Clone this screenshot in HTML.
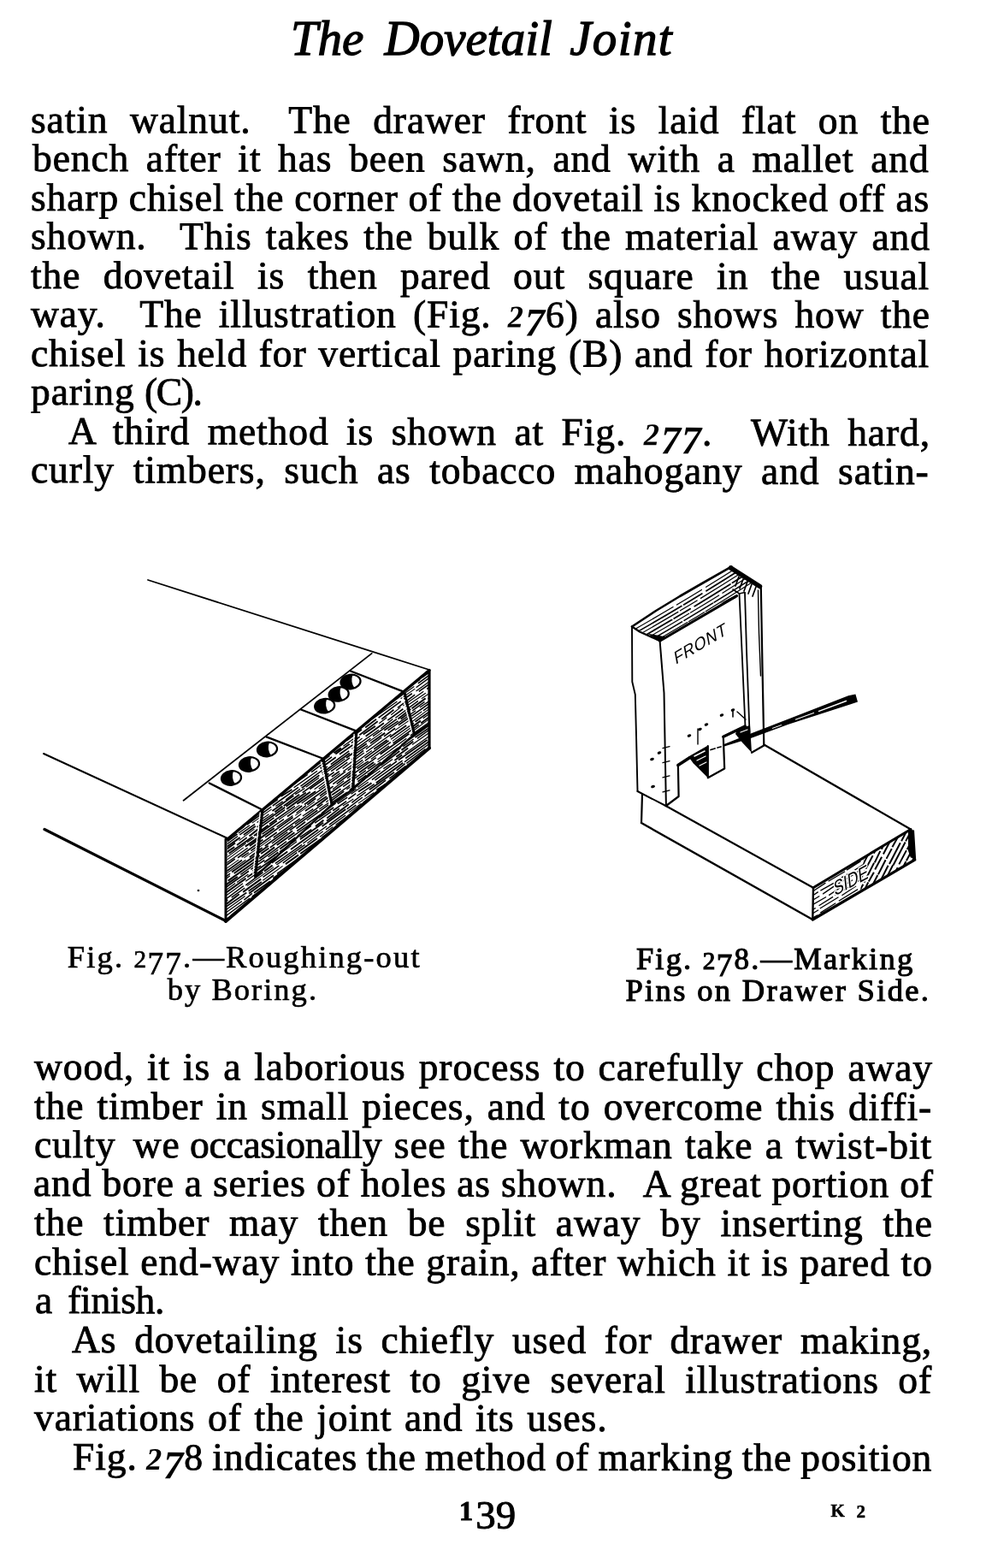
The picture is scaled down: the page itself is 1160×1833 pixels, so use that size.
<!DOCTYPE html>
<html lang="en"><head><meta charset="utf-8"><title>The Dovetail Joint</title>
<style>
html,body{margin:0;padding:0;background:#fff;}
body{width:1160px;height:1833px;position:relative;overflow:hidden;filter:grayscale(1);font-family:"Liberation Serif",serif;color:#000;}
.l{display:block;position:absolute;font-size:45.5px;line-height:1;letter-spacing:0.9px;white-space:nowrap;-webkit-text-stroke:0.85px #000;}
.sp{display:inline-block;}
.t{display:block;position:absolute;white-space:nowrap;line-height:1;}
h1,p,figure,figcaption,footer{margin:0;padding:0;font-weight:normal;font-size:inherit;}
.os{font-size:.8em;letter-spacing:.05em;}
.od{font-size:1.02em;position:relative;top:.21em;}
.oa{font-size:.96em;}
.o1{font-size:.7em;font-weight:bold;letter-spacing:.1em;}
.i{font-style:italic;font-weight:bold;-webkit-text-stroke:0;}
svg{position:absolute;left:0;top:0;}
</style></head><body>
<h1><span class="t" style="left:339.97px;top:16.20px;font-size:57px;letter-spacing:-0.117px;font-style:italic;-webkit-text-stroke:1.3px #000;">The</span> <span class="t" style="left:449.57px;top:16.20px;font-size:57px;letter-spacing:0.012px;font-style:italic;-webkit-text-stroke:1.3px #000;">Dovetail</span> <span class="t" style="left:666.18px;top:16.20px;font-size:57px;letter-spacing:1.370px;font-style:italic;-webkit-text-stroke:1.3px #000;">Joint</span></h1>
<p><span class="l" style="top:117.10px;left:35.80px;word-spacing:13.268px;transform:rotate(0.0547deg);transform-origin:0 38.0px">satin walnut. <span class="sp" style="margin-left:18.20px"></span>The drawer front is laid flat on the</span>
<span class="l" style="top:162.30px;left:38.30px;word-spacing:7.407px;transform:rotate(0.0547deg);transform-origin:0 38.0px">bench after it has been sawn, and with a mallet and</span>
<span class="l" style="top:207.60px;left:35.80px;word-spacing:-0.510px;transform:rotate(0.0547deg);transform-origin:0 38.0px">sharp chisel the corner of the dovetail is knocked off as</span>
<span class="l" style="top:253.10px;left:35.80px;word-spacing:4.017px;transform:rotate(0.0547deg);transform-origin:0 38.0px">shown. <span class="sp" style="margin-left:22.20px"></span>This takes the bulk of the material away and</span>
<span class="l" style="top:298.70px;left:35.80px;word-spacing:14.214px;transform:rotate(0.0547deg);transform-origin:0 38.0px">the dovetail is then pared out square in the usual</span>
<span class="l" style="top:344.10px;left:35.80px;word-spacing:6.892px;transform:rotate(0.0547deg);transform-origin:0 38.0px">way. <span class="sp" style="margin-left:20.20px"></span>The illustration (Fig. <span class="os i">2</span><span class="od i">7</span><span class="oa">6</span>) also shows how the</span>
<span class="l" style="top:389.70px;left:35.80px;word-spacing:1.449px;transform:rotate(0.0547deg);transform-origin:0 38.0px">chisel is held for vertical paring (B) and for horizontal</span>
<span class="l" style="top:435.20px;left:36.40px;word-spacing:-0.847px;transform:rotate(0.0547deg);transform-origin:0 38.0px">paring <span style="letter-spacing:-1.4px">(C).</span></span></p>
<p><span class="l" style="top:480.70px;left:79.80px;word-spacing:8.213px;transform:rotate(0.1093deg);transform-origin:0 38.0px">A third method is shown at Fig. <span class="os i">2</span><span class="od i">7</span><span class="od i">7</span>. <span class="sp" style="margin-left:24.20px"></span>With hard,</span>
<span class="l" style="top:526.20px;left:35.80px;word-spacing:9.363px;transform:rotate(0.1093deg);transform-origin:0 38.0px">curly timbers, such as tobacco mahogany and satin-</span>
<span class="l" style="top:1223.70px;left:39.50px;word-spacing:2.712px;transform:rotate(0.0711deg);transform-origin:0 38.0px">wood, it is a laborious process to carefully chop away</span>
<span class="l" style="top:1269.50px;left:39.50px;word-spacing:2.873px;transform:rotate(0.0711deg);transform-origin:0 38.0px">the timber in small pieces, and to overcome this diffi-</span>
<span class="l" style="top:1315.10px;left:39.50px;word-spacing:2.071px;transform:rotate(0.0711deg);transform-origin:0 38.0px">culty <span class="sp" style="margin-left:6.00px"></span>we <span class="sp" style="margin-left:-3.00px"></span><span style="letter-spacing:-0.25px">occasionally</span> see the workman take a twist-bit</span>
<span class="l" style="top:1360.30px;left:39.30px;word-spacing:-0.264px;transform:rotate(0.0711deg);transform-origin:0 38.0px">and bore a series of holes as shown. <span class="sp" style="margin-left:18.20px"></span>A great portion of</span>
<span class="l" style="top:1406.00px;left:39.50px;word-spacing:10.528px;transform:rotate(0.0711deg);transform-origin:0 38.0px">the timber may then be split away by inserting the</span>
<span class="l" style="top:1451.70px;left:39.50px;word-spacing:0.513px;transform:rotate(0.0711deg);transform-origin:0 38.0px">chisel end-way into the grain, after which it is pared to</span>
<span class="l" style="top:1497.20px;left:40.50px;word-spacing:4.812px;transform:rotate(0.0711deg);transform-origin:0 38.0px">a <span style="letter-spacing:-0.3px">finish.</span></span></p>
<figure><svg width="1160" height="1833" viewBox="0 0 1160 1833"><g id="fig277" stroke="#000" stroke-linecap="round" fill="none"><clipPath id="c277"><polygon points="266,981 502,783.5 502,874.5 402,959.5 264,1077"/></clipPath><g clip-path="url(#c277)" fill="none" stroke-linecap="butt"><path d="M254.4 783.8L276.6 768.1M291.4 757.7L311.7 742.7M502.6 605.7L534.9 582.6M338.1 727.8L366.1 706.6M291.3 763.6L314.4 747.6M344.1 725.5L371.4 705.9M480.3 631.1L509.5 611.2M391.2 702.0L411.4 688.3M482.7 636.1L512.7 615.4M377.4 716.4L396.3 702.1M400.2 699.7L425.8 681.2M467.0 651.4L490.3 634.5M501.0 629.8L523.2 613.9M323.0 761.8L344.0 747.2M392.1 712.4L418.9 693.0M386.8 719.3L404.9 706.3M439.0 681.0L466.0 662.5M298.7 786.0L324.8 768.0M405.1 709.8L431.4 690.8M394.5 720.4L419.0 702.5M260.5 820.1L271.6 812.0M382.7 732.2L391.4 726.3M477.5 678.9L499.3 663.4M278.7 824.6L310.4 802.8M327.8 793.1L358.5 771.2M470.7 690.1L491.8 674.4M390.2 751.2L402.2 742.8M396.7 750.3L410.1 740.3M363.2 778.4L382.8 763.9M319.8 819.4L343.6 802.2M421.3 747.0L439.5 733.5M257.7 867.8L272.7 856.8M283.5 852.1L306.2 835.8M324.6 833.7L352.0 814.1M388.5 790.9L408.5 776.4M257.7 888.4L273.3 877.3M448.9 750.9L480.9 728.0M434.0 768.4L458.3 750.5M272.9 887.8L282.5 881.4M404.2 797.0L434.0 775.9M486.1 740.7L519.2 717.5M305.2 877.7L337.9 854.0M355.3 844.0L386.2 822.3M485.1 753.6L513.9 732.7M385.9 828.6L399.5 819.4M316.1 882.7L341.4 864.0M457.5 781.1L482.1 762.9M436.2 799.6L452.2 787.6M454.3 789.3L469.1 779.7M397.0 834.8L420.7 816.8M316.3 896.0L343.9 876.0M484.4 775.4L503.5 761.3M406.4 834.3L423.3 822.7M449.5 803.4L471.6 786.9M351.3 876.8L377.4 858.3M394.7 849.2L419.1 831.8M419.9 835.2L446.0 815.7M460.7 811.9L475.6 801.6M256.5 962.4L283.5 943.9M467.1 810.6L491.0 794.3M291.3 947.9L319.7 928.1M420.3 859.2L441.7 843.2M499.2 805.5L515.6 793.3M453.3 842.1L471.4 828.7M449.3 853.8L465.6 842.9M500.6 816.9L517.3 804.7M353.7 926.6L384.5 904.3M411.0 888.3L425.1 877.3M449.0 860.9L462.1 851.3M481.2 837.1L514.6 813.2M303.5 967.9L320.5 955.9M387.8 908.0L396.8 901.8M437.2 875.7L452.6 865.0M426.5 886.4L454.6 865.9M359.3 940.7L369.2 933.2M374.0 930.5L389.6 919.1M393.7 916.4L414.4 900.7M417.5 898.5L430.8 889.9M459.6 868.9L489.8 847.1M278.0 1002.8L307.4 981.5M429.9 899.0L439.1 892.7M291.8 1002.3L306.7 991.0M485.4 862.1L512.4 843.5M260.4 1027.7L269.1 1021.1M338.6 970.9L371.3 947.3M418.4 913.6L428.5 906.3M253.4 1039.6L262.5 1032.4M258.8 1041.1L290.9 1018.2M389.2 947.7L405.1 936.6M474.2 886.5L504.3 864.9M504.0 868.3L529.6 849.9M476.1 894.6L506.8 873.0M453.9 914.6L487.0 890.5M452.3 918.8L478.3 899.2M422.0 943.5L439.9 929.9M457.7 917.8L487.3 896.6M349.1 1008.9L369.3 994.3M497.8 902.4L526.9 882.0M326.9 1029.2L345.5 1016.1M469.1 926.3L493.1 909.5M389.1 994.5L419.0 973.0M423.1 970.2L439.6 958.5M371.6 1010.9L392.6 995.3M466.9 944.4L487.5 930.5M324.3 1051.2L346.6 1034.8M257.4 1110.3L271.5 1100.1M335.0 1058.3L368.8 1033.3M328.0 1066.0L345.6 1053.4M400.4 1018.2L422.7 1002.0M479.3 960.6L492.0 951.3M314.0 1087.3L336.8 1070.0M341.5 1067.3L353.4 1058.8M433.1 1000.7L447.1 990.4M480.3 967.2L491.2 959.6M293.0 1104.8L314.7 1089.1M358.9 1057.5L373.3 1047.2M437.0 1001.1L461.0 984.0M289.3 1118.3L309.9 1103.0M461.2 1001.1L482.7 985.1M316.5 1111.5L329.2 1102.1M278.6 1145.9L310.7 1123.2M357.4 1089.4L382.5 1070.7M278.0 1149.6L305.6 1130.6M396.0 1065.1L425.7 1043.2M434.0 1048.0L453.7 1034.9M455.3 1033.2L473.9 1019.6M478.2 1016.4L503.5 999.2M295.6 1152.5L321.3 1134.0M356.0 1108.7L372.5 1096.1M395.8 1088.9L412.7 1077.3M434.6 1061.8L448.1 1051.4M318.2 1148.9L352.3 1124.2M306.1 1163.8L314.9 1158.1M290.7 1178.6L319.4 1157.6M321.6 1160.3L351.7 1137.6M331.7 1156.0L362.0 1133.2M366.7 1129.8L398.0 1108.3M310.1 1175.3L323.7 1164.6M469.6 1059.6L489.3 1045.4M255.7 1223.9L267.6 1215.0M393.7 1127.2L402.4 1121.4M351.9 1160.6L379.2 1140.3M383.3 1138.0L415.3 1114.9M453.9 1087.5L478.5 1069.6M307.4 1199.3L315.7 1193.1M354.6 1164.9L368.8 1155.1M406.9 1127.4L435.7 1106.7M410.9 1130.6L432.2 1115.4M437.9 1118.3L468.7 1095.9M398.5 1149.5L425.9 1130.4" stroke-width="1.7"/><path d="M278.1 767.3L286.5 760.5M424.0 661.4L454.9 639.2M261.6 782.5L293.3 759.9M308.1 755.5L337.1 734.3M385.3 704.3L409.7 685.7M303.8 765.6L322.8 751.6M445.4 667.4L465.1 652.6M336.3 748.7L369.4 724.6M373.2 722.8L398.9 704.2M438.7 674.6L449.1 668.0M442.0 676.6L464.2 660.2M466.9 657.9L497.6 636.3M338.5 754.1L351.6 744.7M303.5 785.6L321.9 773.5M358.0 746.7L390.3 723.4M292.1 797.3L324.2 774.3M447.3 685.3L458.2 678.0M403.5 720.8L422.6 707.0M437.0 700.7L457.2 686.1M315.5 791.9L330.0 781.0M261.6 839.9L291.6 818.5M439.2 712.2L469.0 691.5M489.9 679.7L507.8 667.3M445.9 715.5L466.1 700.5M471.0 697.0L496.2 678.4M308.0 818.5L319.2 809.8M260.7 858.8L282.2 843.0M362.4 789.7L382.3 774.9M346.1 807.0L359.5 797.0M434.1 743.5L461.1 724.0M320.4 828.9L331.7 821.2M336.0 817.5L367.7 794.3M406.5 766.3L422.0 756.2M288.3 855.4L303.3 845.4M326.7 828.2L343.8 815.8M253.1 884.3L283.8 863.0M253.4 888.4L280.4 869.0M347.5 820.8L366.1 806.8M364.5 811.7L375.0 803.8M378.9 800.4L403.5 783.5M466.6 741.0L484.9 728.4M280.7 879.1L314.3 854.8M316.2 853.5L343.3 833.8M304.6 868.6L335.7 845.8M437.3 772.5L456.5 758.8M475.1 746.3L489.1 736.3M368.0 825.6L377.9 818.2M470.3 752.0L482.4 743.7M423.7 789.7L433.8 781.9M467.9 757.6L483.8 745.9M414.9 801.2L437.7 785.6M404.7 811.8L426.4 796.4M474.3 761.8L482.8 756.2M253.4 924.6L277.2 907.1M327.8 870.2L341.6 860.3M369.0 840.8L383.4 830.7M485.3 757.2L514.9 735.5M261.1 922.1L293.6 898.1M485.7 760.6L516.1 738.1M418.7 815.6L433.9 804.2M361.0 864.3L378.9 851.2M415.2 825.1L443.7 804.6M371.2 859.8L401.8 837.2M319.8 899.4L347.6 880.3M379.6 856.9L401.6 841.5M463.7 800.3L486.5 783.8M273.8 940.5L300.0 921.8M326.9 901.6L342.3 890.5M293.5 933.1L318.1 915.2M408.2 849.4L423.0 839.8M297.1 933.3L311.5 922.7M418.0 849.8L432.4 840.1M434.4 841.3L464.4 820.0M486.5 808.0L506.3 793.6M320.5 930.7L338.2 917.9M279.5 963.7L309.1 942.0M411.5 875.4L443.0 853.3M445.3 851.8L459.4 840.6M322.3 942.5L330.7 936.9M413.0 877.9L433.4 863.1M377.3 905.8L403.5 887.0M303.4 962.1L319.7 951.0M490.8 827.0L502.3 819.4M503.7 818.0L521.4 805.2M427.9 875.7L446.3 862.0M372.7 922.3L397.6 904.0M352.7 939.0L383.2 917.4M259.3 1012.7L289.7 991.3M433.8 887.6L455.0 872.1M401.2 919.6L427.9 900.6M344.9 963.6L377.4 939.9M381.2 937.7L412.8 915.4M448.1 889.7L468.9 874.1M471.3 872.6L483.6 864.0M405.3 922.8L414.5 916.9M428.3 909.5L459.1 887.5M448.3 898.6L457.1 893.0M281.3 1022.4L299.4 1009.3M410.6 928.3L430.8 914.3M501.5 863.0L524.7 846.1M313.5 1001.8L325.4 993.2M261.0 1043.0L275.2 1032.6M253.6 1054.7L284.0 1032.8M287.2 1030.2L316.3 1009.7M354.4 986.1L382.0 965.7M380.9 969.9L404.1 953.0M424.5 938.2L450.2 919.8M490.1 894.4L509.1 880.2M435.3 943.6L462.3 924.6M463.9 923.3L480.6 911.1M319.5 1040.8L328.7 1034.0M310.1 1051.3L327.2 1038.9M417.3 977.3L441.4 960.4M445.9 957.2L466.1 942.4M468.9 940.4L484.3 929.1M302.8 1063.0L317.0 1053.3M319.0 1051.6L338.1 1037.4M339.5 1036.6L354.6 1025.9M349.0 1033.3L378.1 1013.0M492.6 930.1L511.6 916.6M342.8 1042.0L376.3 1017.7M285.7 1086.4L306.4 1071.0M308.8 1069.7L317.5 1064.0M354.5 1040.4L382.1 1020.3M370.6 1033.0L387.9 1020.0M412.0 1002.9L436.2 985.8M373.9 1033.6L402.2 1013.2M474.7 960.0L491.5 948.2M494.3 946.2L512.1 934.2M258.0 1123.6L281.3 1106.3M354.8 1056.9L369.9 1046.4M450.4 988.6L477.6 969.0M346.8 1069.7L375.9 1048.2M404.5 1027.7L438.3 1003.7M261.3 1134.6L279.7 1121.4M420.0 1026.7L442.6 1010.8M379.7 1063.2L392.7 1053.6M255.9 1162.6L276.4 1147.5M401.7 1057.9L411.5 1050.5M459.9 1019.1L491.0 996.5M492.9 994.6L522.2 974.0M393.2 1070.7L423.2 1049.7M480.1 1008.6L509.7 986.3M464.2 1023.5L495.8 999.8M498.8 998.0L508.4 991.4M342.1 1114.7L361.0 1101.6M386.1 1082.8L408.8 1066.2M389.7 1084.2L411.3 1069.2M257.3 1182.4L289.7 1159.6M363.0 1109.4L387.9 1091.3M412.7 1073.4L444.1 1051.1M458.7 1041.1L481.6 1023.8M331.8 1135.3L360.3 1114.8M402.5 1105.1L420.6 1091.8M423.8 1089.5L432.9 1082.7M260.1 1210.9L290.8 1188.3M328.3 1161.2L338.5 1154.3M343.4 1151.2L364.4 1135.8M366.5 1134.0L388.3 1118.9M273.5 1204.9L286.4 1195.5M319.9 1171.5L353.7 1146.7M442.4 1083.0L471.4 1062.3M355.7 1151.9L377.8 1135.2M395.7 1123.0L417.9 1106.7M451.2 1082.7L477.7 1064.2M496.1 1050.1L513.4 1037.5M404.4 1119.9L427.3 1102.7M327.1 1178.6L337.5 1170.7M373.5 1148.4L383.3 1141.3M497.8 1061.7L511.9 1052.6M258.7 1237.2L285.2 1218.2M270.7 1232.2L279.0 1225.6M377.7 1154.7L408.4 1132.6M491.7 1072.3L515.3 1055.3M426.1 1123.8L435.5 1117.1" stroke-width="1.3"/><path d="M313.5 741.9L338.1 723.7M412.1 676.6L440.3 656.9M411.9 684.6L433.7 668.9M501.1 620.0L517.7 608.5M356.6 727.2L389.1 704.5M446.1 662.3L469.5 645.6M261.1 807.1L271.7 798.8M421.8 690.5L438.1 678.7M488.6 649.1L502.5 639.3M345.6 756.1L355.1 748.8M328.3 771.2L348.8 756.2M367.5 746.6L381.0 736.8M326.0 780.1L341.3 769.0M491.5 660.5L503.9 651.7M354.8 762.8L369.3 753.1M429.9 715.6L446.1 704.3M317.5 807.0L343.5 788.7M384.8 762.9L410.3 744.0M311.0 818.6L340.5 797.3M337.9 803.0L351.2 794.4M355.1 790.5L386.7 768.5M388.7 767.3L408.7 752.2M488.2 695.3L500.7 685.8M348.0 798.9L359.7 790.5M412.3 758.9L431.6 745.9M289.3 851.8L315.9 831.6M475.6 717.5L491.4 706.2M389.7 782.4L406.5 770.5M485.3 713.7L506.3 698.7M312.2 842.1L321.7 834.9M440.7 750.0L467.1 730.8M298.0 855.7L324.3 836.8M328.3 833.6L344.1 823.2M274.5 876.1L294.0 861.5M424.3 767.8L447.5 751.4M253.0 895.1L280.4 875.9M315.7 856.5L349.0 832.8M445.1 763.5L473.8 742.8M459.4 757.7L470.6 749.2M403.2 804.1L419.2 792.4M436.8 779.4L447.4 772.5M468.7 762.6L480.9 754.6M427.0 799.1L447.1 785.3M384.4 836.6L402.2 823.9M454.6 786.4L484.3 764.3M261.3 929.1L276.3 917.7M279.3 915.3L299.7 901.3M351.3 864.6L381.5 842.6M259.5 933.0L275.4 921.5M425.0 813.9L450.0 795.8M252.4 941.7L262.2 934.5M295.8 913.5L306.3 906.1M420.7 831.0L440.6 816.4M371.1 870.2L389.0 857.4M287.2 933.7L312.6 915.7M434.0 827.4L449.7 817.0M256.7 959.1L275.7 945.3M344.9 895.3L371.7 875.8M314.6 921.0L326.2 913.1M253.9 968.0L268.6 957.5M341.6 911.6L355.7 902.2M427.2 850.5L440.0 840.7M472.4 817.2L481.8 810.8M446.3 840.8L460.4 829.8M328.5 931.0L341.4 922.9M374.6 898.3L392.7 885.2M397.0 881.7L412.7 870.7M352.8 921.2L373.4 906.3M502.4 812.8L518.2 802.3M300.6 966.9L333.2 943.8M277.0 988.0L288.7 979.1M299.4 977.2L323.8 959.6M485.5 843.7L516.1 822.0M336.0 954.6L353.2 942.1M356.9 948.0L381.8 931.0M383.1 929.3L417.0 905.4M261.0 1021.3L283.0 1005.5M388.3 929.3L398.5 922.2M315.8 990.9L342.1 971.3M346.5 968.6L357.0 960.8M461.4 889.0L470.2 882.5M372.4 956.2L390.1 944.0M466.0 888.5L499.5 865.0M289.3 1025.6L322.4 1001.7M350.9 981.3L378.2 961.8M257.8 1058.8L266.3 1051.8M483.0 896.7L505.3 879.8M441.7 928.5L454.9 919.6M290.6 1041.7L305.9 1031.0M376.3 979.2L406.9 957.7M485.4 907.5L511.7 888.4M294.8 1048.2L317.9 1032.1M258.9 1085.1L286.3 1064.8M494.8 915.4L505.1 907.5M253.0 1092.3L267.7 1082.4M346.8 1025.1L362.4 1014.0M294.3 1066.1L309.4 1055.7M346.9 1027.6L369.7 1011.4M357.7 1023.3L386.2 1003.3M253.9 1102.2L275.6 1086.0M473.3 951.0L499.0 932.3M269.7 1105.6L279.2 1097.8M255.6 1121.9L265.0 1114.9M325.6 1075.2L345.4 1060.3M493.4 954.7L517.7 936.3M411.1 1019.8L432.4 1003.8M494.2 959.6L508.7 949.3M490.3 965.8L507.1 954.2M377.1 1061.8L391.6 1050.5M292.0 1125.4L312.0 1110.9M331.6 1100.7L342.5 1092.7M430.2 1029.4L449.8 1015.0M253.1 1168.1L262.2 1161.4M449.6 1029.7L476.9 1010.5M289.3 1149.4L303.3 1138.6M306.2 1137.3L322.8 1124.8M279.4 1160.0L309.3 1138.9M461.3 1032.8L478.3 1020.5M336.8 1127.9L359.9 1111.3M390.9 1089.5L411.2 1074.8M362.7 1112.6L392.7 1091.7M451.0 1049.3L462.6 1040.7M380.0 1103.9L409.2 1082.6M474.4 1040.0L487.7 1029.6M426.9 1077.4L440.4 1067.1M259.5 1200.8L288.1 1181.0M323.6 1155.3L351.7 1135.3M419.8 1085.5L429.8 1078.7M459.3 1057.8L482.3 1040.1M296.3 1177.6L319.0 1161.8M353.4 1136.2L379.8 1117.6M435.8 1083.6L465.6 1063.2M406.5 1109.2L438.6 1086.2M258.4 1218.3L267.5 1212.4M426.7 1098.0L448.5 1081.4M382.4 1132.8L393.7 1124.6M482.0 1060.2L491.4 1053.2M328.6 1174.4L353.4 1155.8M489.9 1065.0L504.7 1053.9M473.6 1082.8L497.1 1066.2M260.5 1245.2L281.4 1231.0M381.9 1157.9L410.4 1137.5M472.1 1093.8L504.6 1070.4M312.9 1210.9L326.4 1201.9M403.6 1149.6L422.2 1135.7M301.5 1226.7L334.2 1202.9" stroke-width="1.8"/><path d="M341.8 721.4L351.5 714.1M315.9 746.4L340.3 729.1M376.1 703.0L390.7 692.6M393.3 690.5L409.5 679.1M459.3 642.6L485.6 624.0M489.8 621.6L509.3 606.7M449.2 657.3L479.5 635.9M481.9 634.4L499.2 621.9M253.8 801.5L271.6 788.9M328.7 751.5L352.8 733.7M451.6 666.0L474.8 648.5M253.4 819.2L282.0 797.8M284.1 796.9L294.3 790.1M323.5 771.4L344.0 757.2M411.6 711.9L431.4 697.5M315.5 784.4L340.2 766.7M379.2 741.7L410.1 719.2M380.6 751.3L392.1 742.9M391.4 746.7L415.1 729.8M281.2 829.5L309.5 810.1M334.7 791.7L365.4 769.3M500.7 675.6L512.3 667.4M456.9 714.2L473.3 701.8M410.5 750.8L436.0 732.8M472.0 706.9L486.8 696.3M503.8 684.4L536.6 660.6M441.9 731.8L455.9 722.1M448.8 729.9L464.8 718.1M393.2 777.0L401.8 770.0M424.0 753.9L456.5 731.3M458.8 729.2L472.5 719.4M345.5 813.9L368.5 798.3M282.5 867.6L294.9 858.1M284.1 872.2L314.2 850.8M488.9 725.7L511.9 708.6M350.6 832.3L372.9 816.0M376.9 813.1L406.4 791.9M288.9 889.0L301.6 880.2M419.7 794.3L444.2 777.7M289.6 892.1L320.9 869.1M299.6 887.3L315.7 876.6M317.3 874.9L350.7 851.0M280.7 904.1L307.0 885.4M449.6 782.9L458.4 776.6M366.6 845.7L379.5 837.1M381.4 835.3L396.9 824.0M404.6 821.4L432.7 802.2M315.2 890.2L346.6 866.9M385.5 839.2L417.4 815.8M472.7 776.0L501.9 756.0M278.3 919.5L290.4 911.1M293.8 908.7L323.8 887.3M495.9 770.3L513.5 757.2M490.1 780.9L516.7 762.3M391.6 855.5L404.7 846.0M454.4 812.9L483.5 792.5M406.9 858.0L416.7 851.3M486.6 803.8L505.7 789.6M254.9 984.5L268.4 975.2M343.6 920.8L371.0 901.2M462.4 839.2L488.9 819.4M334.0 935.0L351.0 922.3M252.1 996.5L278.1 977.5M345.2 928.7L356.4 921.5M482.2 830.9L496.5 820.4M411.9 883.7L430.1 871.7M453.6 853.9L486.1 830.7M400.6 898.5L425.8 880.0M428.1 879.2L457.4 858.3M494.9 830.9L514.5 816.2M457.1 864.2L484.0 845.1M494.7 839.7L511.0 828.1M323.6 966.8L342.4 953.5M346.5 950.5L358.0 941.6M441.5 888.0L475.3 863.3M479.9 859.8L511.9 837.3M353.9 954.0L366.3 945.6M373.3 946.0L384.3 938.5M254.1 1034.7L269.0 1023.7M336.9 981.6L368.1 959.5M293.3 1016.4L309.4 1005.3M295.1 1018.2L305.1 1012.2M326.8 995.7L346.5 982.0M417.3 930.5L437.7 916.6M472.9 890.9L501.6 869.8M321.9 1009.4L353.1 987.4M323.4 1011.0L356.7 987.4M253.0 1065.2L261.2 1058.8M387.8 974.6L414.5 955.7M257.4 1071.7L282.9 1053.5M379.4 984.3L399.7 970.0M457.6 931.0L470.4 921.7M270.0 1070.1L281.9 1061.2M395.1 982.9L419.9 965.9M398.5 984.2L408.6 976.6M411.6 974.8L445.5 950.4M283.8 1070.3L294.8 1061.8M289.2 1072.8L298.0 1066.1M390.8 999.9L418.2 980.2M492.2 926.6L517.1 908.5M379.5 1015.0L403.8 998.2M342.7 1044.8L374.6 1022.2M436.6 977.5L456.3 963.7M384.5 1018.9L411.5 999.4M495.7 948.8L519.5 931.3M279.1 1114.4L290.1 1106.9M255.2 1134.9L271.7 1123.6M312.4 1100.9L331.3 1088.2M475.8 987.5L494.7 974.0M315.5 1105.0L325.8 1097.7M469.4 998.2L501.1 974.8M357.8 1081.5L381.0 1064.5M451.2 1013.9L466.8 1002.7M368.5 1077.6L391.0 1061.3M392.5 1060.1L425.1 1037.4M427.5 1035.2L436.7 1028.3M470.9 1007.9L488.2 994.6M337.2 1107.2L358.8 1092.2M270.3 1162.9L285.0 1152.3M336.9 1114.8L360.2 1098.2M414.5 1065.9L443.7 1045.4M329.4 1130.6L347.8 1117.2M254.3 1187.6L264.0 1180.9M267.6 1177.7L276.4 1171.8M257.2 1195.7L288.9 1172.9M490.4 1028.0L498.9 1022.4M356.3 1131.1L375.6 1117.3M436.2 1080.0L467.6 1057.5M409.1 1103.5L433.4 1086.3M495.7 1044.3L526.6 1022.6M310.7 1180.4L341.3 1159.3M485.7 1054.9L501.8 1043.6M270.5 1212.2L287.0 1200.8M314.6 1184.4L325.3 1176.9M419.6 1112.2L449.3 1090.9M258.6 1230.9L287.5 1209.7M401.5 1127.6L418.1 1116.6M318.8 1191.7L352.2 1167.3M499.6 1064.0L519.7 1048.9M311.4 1202.8L324.6 1193.1M350.9 1174.3L373.0 1157.6M260.6 1242.1L274.4 1232.7M467.6 1093.0L475.9 1087.5M283.3 1229.7L308.3 1211.0M312.6 1207.9L345.0 1184.9M349.3 1181.6L379.5 1160.2M331.1 1197.9L360.7 1176.5M454.5 1109.5L481.3 1090.0M358.6 1182.2L381.2 1165.4M385.7 1161.9L399.9 1152.0M288.7 1235.3L298.5 1228.8M336.6 1201.4L361.1 1183.0M452.1 1117.4L468.7 1105.4" stroke-width="1.4"/><path d="M352.9 713.0L383.5 691.3M297.5 756.3L320.5 739.5M447.3 648.5L478.0 627.2M274.6 779.4L304.5 758.0M336.2 738.8L353.5 726.7M355.3 725.9L384.0 705.1M495.0 631.7L510.8 619.9M284.9 785.8L308.5 769.2M400.8 702.0L415.6 691.9M275.7 796.3L291.5 784.9M353.7 742.5L382.2 723.0M329.4 764.6L356.1 744.8M276.2 809.2L288.9 800.1M392.9 725.3L407.2 714.8M301.7 794.0L312.0 786.2M461.1 679.7L473.5 670.5M413.0 717.6L434.8 701.7M483.0 670.8L501.7 657.4M253.6 839.9L269.8 828.0M332.0 783.2L357.5 765.1M314.3 805.8L331.9 793.5M368.4 767.1L386.9 754.1M417.3 732.1L449.3 709.2M290.2 831.3L303.4 821.0M321.1 808.6L330.2 801.9M467.3 703.6L498.7 680.4M259.3 855.8L282.6 839.5M258.5 873.9L285.1 853.8M307.9 841.8L324.1 829.4M441.7 745.1L462.2 730.4M285.3 862.0L307.4 846.1M408.3 779.5L420.1 770.9M346.2 828.0L363.6 815.8M366.2 813.8L383.5 800.8M412.7 780.7L445.8 756.5M460.0 749.3L481.8 734.4M475.6 741.9L509.1 718.3M339.3 844.1L354.6 832.1M391.0 805.9L399.8 800.4M274.7 892.8L308.0 869.5M312.7 866.0L333.0 850.8M381.7 816.1L415.5 792.1M288.3 887.1L313.5 868.8M484.2 748.0L494.8 740.4M256.8 915.1L287.3 893.0M389.3 819.9L410.4 804.4M259.8 916.9L279.4 902.7M454.6 792.6L485.5 770.8M264.1 933.6L287.4 916.6M338.9 883.2L367.7 862.6M375.7 862.7L392.9 850.8M304.5 918.0L324.9 902.7M447.9 814.2L461.6 804.5M465.0 803.0L493.8 781.2M373.7 871.1L397.4 854.5M277.3 943.6L290.1 934.9M477.6 800.0L492.2 788.9M409.4 852.5L435.6 834.0M436.8 833.5L464.3 813.6M271.1 956.1L287.6 944.0M371.1 890.4L402.7 868.0M405.9 865.3L423.0 852.8M424.7 858.5L438.9 848.9M299.0 952.5L324.7 934.5M427.6 860.7L448.9 845.3M260.4 987.3L277.5 975.1M465.4 840.4L480.3 828.8M318.5 948.1L343.4 930.1M404.8 886.0L428.8 869.2M468.6 840.7L478.6 833.0M252.5 998.7L280.7 979.1M284.9 976.1L298.8 965.7M331.7 942.2L350.1 928.8M334.5 942.7L357.8 926.5M465.9 847.8L478.2 839.0M267.7 997.8L295.5 978.1M296.9 977.0L313.6 964.8M347.3 939.7L369.1 925.1M492.2 845.4L525.7 820.6M444.6 881.7L478.4 857.8M301.6 997.4L313.8 988.8M445.4 894.8L467.3 877.9M463.3 884.7L477.2 874.5M431.9 923.3L461.0 902.7M340.0 992.9L372.2 969.7M376.6 966.1L404.3 946.1M440.4 923.6L450.8 916.8M348.8 996.0L371.0 980.0M333.9 1010.1L349.0 999.4M351.2 998.0L374.3 981.5M291.1 1044.5L320.0 1023.3M418.1 953.1L444.7 933.4M297.0 1043.7L315.9 1030.2M319.4 1026.7L334.9 1015.7M496.4 907.1L507.1 899.2M259.8 1081.5L278.7 1067.6M280.5 1066.2L306.7 1047.4M472.5 927.9L499.5 908.0M503.6 904.9L524.7 890.1M288.3 1063.7L297.7 1056.4M448.4 948.6L463.5 937.9M279.8 1076.2L289.6 1068.9M489.1 925.7L522.4 901.9M416.2 984.9L439.7 967.7M259.8 1101.9L288.3 1080.8M313.0 1070.4L332.1 1056.4M255.3 1115.3L266.9 1107.8M282.0 1095.9L299.4 1084.1M440.5 982.7L455.9 971.2M285.7 1099.9L313.6 1080.6M330.2 1068.0L357.2 1049.2M386.6 1027.4L397.0 1019.9M471.3 970.4L490.4 956.0M375.4 1045.4L407.4 1022.7M325.0 1085.2L344.6 1070.9M335.9 1083.9L361.0 1066.8M383.9 1049.7L394.0 1043.2M256.1 1145.6L271.8 1133.4M290.8 1134.1L305.2 1122.9M440.7 1025.2L473.2 1002.6M362.2 1089.6L392.5 1067.7M485.4 1021.8L514.0 1001.3M292.5 1163.6L303.3 1155.4M414.5 1076.1L431.2 1063.2M259.6 1191.2L280.7 1176.2M283.2 1173.8L317.0 1149.8M479.2 1032.1L492.8 1023.2M411.8 1085.1L440.2 1064.2M285.9 1178.2L302.4 1166.7M318.3 1155.4L344.0 1136.1M368.9 1118.6L395.7 1099.3M401.1 1099.7L416.0 1088.8M255.9 1206.4L276.7 1191.8M486.7 1041.1L507.4 1025.9M257.9 1208.9L273.5 1197.1M295.0 1185.2L308.0 1176.6M491.1 1044.8L523.4 1021.0M290.4 1195.8L307.9 1182.9M367.4 1146.5L389.7 1130.1M309.3 1191.1L325.6 1179.0M347.1 1167.1L369.4 1151.1M289.7 1214.5L300.1 1207.9M341.4 1177.7L350.9 1170.4M400.5 1135.3L429.1 1115.2M454.2 1097.1L472.2 1083.6M332.5 1191.0L354.5 1175.3M364.7 1173.9L396.1 1152.0M429.5 1127.2L452.6 1110.9M503.3 1073.6L532.7 1052.8M335.5 1199.0L356.2 1183.7" stroke-width="1.9"/><path d="M387.3 688.2L419.3 665.6M503.9 608.5L528.1 590.5M341.3 731.6L356.4 720.8M315.2 754.0L332.2 742.5M275.7 785.5L300.0 767.9M326.0 748.8L352.2 730.4M311.8 766.7L332.4 752.0M420.1 688.9L434.8 677.6M275.6 799.0L302.6 779.5M409.7 702.5L435.6 684.5M360.7 741.6L391.2 720.1M473.8 666.3L507.0 642.8M478.3 667.3L502.3 649.6M345.2 765.8L360.8 754.9M403.4 728.7L428.2 710.8M431.9 708.1L464.1 684.6M411.6 729.2L426.1 719.5M450.2 701.5L473.1 685.1M361.6 767.8L389.6 748.2M257.3 847.4L276.9 832.6M348.4 784.7L358.2 778.2M260.6 851.8L287.9 832.0M413.0 742.6L435.1 726.7M285.6 837.8L307.7 821.4M284.6 841.3L317.1 818.9M440.4 729.6L467.8 710.0M349.0 801.3L383.1 777.2M385.2 775.5L417.4 751.9M269.8 862.3L279.7 855.5M307.5 835.2L323.6 823.1M490.9 702.8L511.4 688.1M481.4 720.0L504.7 704.0M437.3 756.0L453.2 743.6M296.4 860.4L312.2 849.1M347.1 830.7L368.9 815.3M284.9 879.0L314.2 858.6M490.8 735.0L519.7 714.1M451.8 768.4L464.1 759.9M340.3 852.3L365.0 834.4M496.9 739.3L513.4 727.5M283.2 899.7L296.3 890.1M428.8 795.1L445.3 782.3M295.6 897.3L313.4 883.7M306.4 892.3L321.8 881.8M325.5 879.4L336.2 871.2M340.1 868.4L364.0 851.0M426.7 822.8L448.0 807.1M309.5 911.4L339.7 889.1M498.3 778.2L523.3 760.0M258.7 953.7L283.4 935.9M286.8 940.8L295.2 934.3M291.3 941.3L321.0 919.8M362.8 889.8L386.8 872.2M390.6 869.6L405.7 859.0M437.2 835.9L452.8 824.5M296.5 940.5L323.2 922.1M362.4 893.8L373.6 885.3M376.2 883.3L397.2 868.5M261.2 969.3L290.0 949.0M256.8 976.9L278.1 960.9M281.2 959.3L304.1 942.3M465.0 827.3L485.2 812.1M364.1 902.6L388.1 884.9M410.9 868.6L420.7 861.1M271.4 972.4L295.2 955.1M501.1 807.8L531.0 786.2M351.5 919.2L382.9 896.0M280.3 975.8L298.1 963.3M393.0 900.8L406.3 891.2M406.7 900.7L424.2 888.3M389.3 916.6L410.9 901.0M426.8 889.4L456.8 867.6M282.6 1002.2L290.8 996.6M417.3 911.3L445.3 890.9M318.0 986.0L336.3 972.6M487.9 863.3L514.8 843.9M358.8 959.0L384.1 940.8M386.6 939.2L405.9 926.2M302.3 1007.4L335.0 983.7M394.9 939.7L406.2 932.2M368.1 962.1L387.2 948.9M407.3 934.2L416.2 927.7M438.4 912.2L470.6 889.2M411.3 938.3L427.7 926.0M463.6 900.9L473.7 892.6M475.3 892.3L497.4 875.5M405.6 945.8L423.9 932.0M426.4 930.9L451.1 912.1M270.7 1049.2L286.3 1038.0M330.8 1008.9L347.4 996.6M432.5 938.9L462.3 917.6M324.0 1021.4L354.7 999.0M358.9 996.2L370.6 987.1M375.0 984.0L383.2 978.6M285.3 1052.1L294.9 1044.4M258.9 1074.7L292.1 1050.0M320.1 1030.1L344.4 1013.0M370.9 993.7L398.9 973.4M475.0 918.5L496.4 903.4M410.0 969.6L419.7 962.5M421.6 964.9L438.2 952.2M372.4 1002.8L396.6 985.1M311.6 1054.1L331.7 1039.6M394.0 994.3L415.8 978.5M478.4 940.2L489.8 932.1M273.1 1095.2L283.3 1088.0M321.9 1060.2L339.6 1047.9M302.3 1081.4L333.1 1059.4M256.1 1118.3L272.4 1106.0M275.9 1103.6L288.4 1094.2M441.1 984.8L472.0 962.6M283.7 1105.0L292.1 1098.9M415.1 1010.0L437.4 994.3M438.6 993.8L469.7 970.7M374.5 1042.6L407.8 1019.5M494.2 956.9L510.5 945.5M319.2 1085.9L344.0 1068.4M275.0 1121.4L294.0 1107.8M342.2 1076.6L352.0 1069.6M447.5 1000.9L471.6 982.4M490.2 970.0L511.1 954.0M418.9 1024.9L437.0 1011.5M276.3 1130.9L305.8 1109.4M496.9 971.7L516.5 958.0M438.9 1016.2L456.6 1003.9M486.2 982.8L497.5 974.8M499.3 973.1L511.7 964.8M346.0 1086.6L356.4 1079.5M360.9 1075.6L376.5 1065.2M395.3 1052.0L406.6 1042.8M338.7 1099.4L364.9 1080.8M333.8 1106.6L353.4 1091.9M386.4 1068.0L397.6 1060.8M490.9 993.0L512.2 977.5M361.5 1097.4L391.9 1075.6M311.0 1137.2L338.8 1117.2M363.6 1098.7L381.3 1086.1M322.9 1131.8L354.2 1109.6M305.1 1151.8L332.7 1131.7M354.8 1122.0L377.4 1105.7M342.6 1134.4L373.4 1112.3M502.0 1019.3L522.0 1005.4M443.5 1064.9L457.4 1054.8M460.1 1052.7L468.4 1047.3M403.9 1100.7L434.2 1078.8M438.1 1075.4L449.5 1067.7M315.4 1167.4L328.8 1157.9M288.3 1194.3L317.4 1172.7M382.3 1126.0L403.9 1111.3M346.1 1155.1L359.6 1145.9M405.0 1113.4L423.1 1100.2M257.8 1224.4L276.6 1211.6M356.1 1154.3L364.7 1148.4M492.8 1055.9L525.7 1031.4M385.3 1140.2L397.2 1131.8M474.0 1075.7L486.7 1067.1M352.2 1170.4L381.4 1148.5M259.3 1239.6L268.8 1232.5M479.6 1081.3L490.0 1073.3M370.9 1162.9L392.8 1146.8M289.9 1227.3L308.7 1213.8M462.0 1107.2L470.8 1100.8M380.2 1169.0L401.4 1154.8M422.4 1139.6L432.1 1132.7" stroke-width="1.5"/><path d="M459.6 636.4L479.1 622.0M397.4 684.5L431.4 659.7M480.6 624.8L500.7 610.5M431.4 667.3L458.8 647.4M461.1 645.2L478.1 632.8M415.9 684.9L444.6 664.3M257.8 801.7L286.6 781.8M355.4 731.8L372.6 719.0M293.7 783.7L321.4 763.4M501.7 633.2L519.0 620.8M469.1 660.0L490.8 644.0M492.1 643.6L513.2 628.2M458.4 671.2L485.2 652.0M343.7 763.3L363.3 750.0M382.5 735.8L399.6 723.0M459.3 683.6L488.3 662.9M274.1 825.2L306.4 801.3M494.1 672.9L527.3 649.0M272.6 839.6L285.4 830.4M362.7 774.7L392.3 753.6M436.5 725.9L465.1 704.9M343.8 795.9L359.7 784.4M398.1 756.1L425.3 736.7M319.9 816.9L334.8 805.2M295.4 837.6L316.1 822.0M457.9 719.8L476.8 706.5M302.4 834.8L323.5 820.6M495.6 695.7L508.7 687.0M388.7 776.2L409.8 761.7M370.4 796.1L387.0 784.4M464.8 728.4L482.3 715.3M316.5 845.6L338.1 829.8M384.7 800.3L409.7 782.0M255.8 896.5L278.5 880.5M372.4 813.2L400.1 792.3M259.6 897.8L269.9 889.4M256.1 902.9L270.0 893.7M419.3 788.6L437.4 775.5M439.4 774.2L466.7 754.9M259.5 906.9L285.4 888.7M343.5 846.7L376.9 823.0M379.6 820.9L399.1 807.4M384.6 819.7L418.3 796.4M460.0 775.2L483.1 759.2M343.6 862.7L363.6 847.6M255.5 929.7L286.0 907.6M364.8 857.7L395.4 835.4M380.8 850.0L412.0 827.3M259.1 940.9L291.0 917.1M342.9 886.7L371.4 866.4M444.9 813.8L460.3 802.7M258.0 951.6L270.9 941.7M345.5 891.8L372.2 872.0M485.9 790.6L505.1 776.4M373.7 875.0L405.2 852.6M488.9 798.8L503.5 788.2M442.6 839.2L468.8 819.8M307.0 940.9L317.8 933.3M489.8 808.4L513.5 791.4M255.1 988.2L285.6 966.2M288.8 964.0L317.2 943.1M318.8 942.0L349.0 920.4M386.8 893.6L408.2 877.8M436.1 860.7L463.9 840.7M387.2 901.6L409.0 885.9M362.3 922.5L390.7 902.7M322.1 954.6L333.1 946.6M314.9 963.5L344.8 942.4M384.8 916.1L404.0 901.8M306.5 975.1L331.9 957.6M356.0 940.5L385.5 918.8M260.8 1014.5L274.8 1004.0M310.1 978.8L342.6 955.5M405.9 909.9L439.9 885.7M293.4 994.6L323.7 973.0M319.7 979.1L350.8 956.9M502.8 846.8L513.4 839.5M309.8 989.0L342.7 965.3M386.6 936.7L402.2 925.0M429.7 905.4L441.0 897.8M347.3 971.5L374.4 952.4M434.9 911.7L464.0 889.9M350.6 978.9L364.3 969.6M382.2 956.5L396.9 945.1M455.4 910.1L474.3 895.7M252.7 1059.5L284.8 1035.7M287.3 1034.8L307.6 1019.6M385.0 964.1L416.4 941.2M501.0 880.0L516.5 869.7M307.5 1025.3L326.4 1011.9M258.5 1064.0L288.3 1043.5M403.2 970.4L425.3 954.6M379.3 991.9L408.5 970.1M442.8 949.0L469.3 929.8M422.6 976.7L435.7 967.0M297.4 1070.7L321.4 1053.0M381.7 1009.7L415.0 986.3M443.5 965.0L475.9 942.0M292.4 1078.2L309.7 1065.4M311.6 1063.9L338.8 1044.4M469.2 951.1L500.0 928.0M289.7 1087.4L309.4 1073.4M430.8 985.4L439.3 979.1M469.7 957.0L495.9 938.7M316.8 1077.5L326.9 1069.9M294.9 1097.1L323.2 1077.2M284.3 1107.6L311.7 1088.2M410.9 1016.7L430.7 1002.6M254.2 1133.0L276.6 1116.2M462.7 982.8L492.6 960.6M475.9 979.6L485.3 972.6M269.0 1132.5L285.2 1121.2M329.0 1096.3L357.1 1075.7M408.6 1042.0L429.2 1026.7M432.9 1024.9L447.0 1014.0M260.3 1151.9L283.1 1135.8M383.3 1063.9L395.9 1054.0M483.0 991.8L506.5 974.1M308.8 1120.3L333.9 1102.6M313.2 1121.1L331.8 1107.7M265.8 1158.2L275.5 1152.2M429.7 1040.6L455.7 1021.4M298.0 1139.4L317.8 1124.8M320.1 1123.3L341.2 1108.3M344.6 1105.6L363.4 1092.1M257.1 1171.8L266.5 1165.3M254.7 1178.0L276.1 1161.9M349.8 1116.3L366.8 1103.5M424.9 1062.0L457.6 1038.5M467.3 1037.4L476.9 1030.7M494.1 1022.5L519.9 1003.8M444.8 1061.3L470.7 1042.0M378.2 1115.1L398.7 1101.0M383.4 1114.7L401.9 1102.2M390.6 1117.0L407.2 1105.0M361.5 1144.3L373.5 1136.1M391.6 1123.2L402.6 1115.3M254.9 1230.2L288.1 1206.2M296.1 1213.6L307.7 1204.7M436.8 1112.5L462.9 1092.9M396.3 1144.5L409.1 1135.7M413.5 1135.3L433.4 1121.1M256.8 1255.6L277.2 1241.1" stroke-width="1.6"/><path d="M481.7 620.4L498.9 608.0M367.5 706.0L394.3 687.4M359.1 718.5L391.1 695.3M395.6 692.6L429.3 668.9M286.4 775.0L311.7 756.7M430.3 677.5L442.3 669.7M265.4 800.1L281.9 787.5M477.6 646.7L498.3 632.2M449.1 680.8L458.1 675.0M460.1 673.4L493.5 649.7M498.2 645.8L507.2 639.7M261.5 826.9L282.2 811.6M362.3 754.3L374.4 745.6M331.4 780.2L350.6 766.4M467.2 681.9L479.8 673.5M309.6 799.2L330.4 784.8M389.6 741.7L419.3 720.3M254.7 841.8L277.0 826.0M327.6 790.3L357.1 768.0M360.3 765.8L378.3 753.2M396.7 739.7L406.8 733.4M476.3 682.4L506.0 661.5M417.5 728.2L434.9 716.2M259.5 862.8L291.5 839.7M258.3 870.6L268.6 863.0M325.7 822.0L343.1 809.6M371.9 791.5L391.0 777.9M412.0 769.8L438.7 751.2M470.9 727.6L479.4 721.9M367.7 805.8L384.9 793.1M317.0 849.6L342.5 831.0M450.2 753.6L462.6 744.6M254.3 908.0L273.3 893.5M334.6 850.0L365.7 827.0M500.9 733.7L522.5 717.8M499.0 740.4L531.3 717.7M352.5 850.0L369.3 837.2M310.0 883.7L325.3 872.2M346.1 857.5L365.0 844.4M436.3 795.3L453.4 783.9M289.8 905.1L302.9 894.8M489.0 760.9L503.2 751.5M302.0 899.0L311.3 892.5M435.4 803.4L452.8 791.0M403.4 839.7L424.7 824.2M450.8 805.8L468.7 793.2M344.5 889.0L366.5 873.6M408.4 843.5L418.3 836.5M398.8 852.7L432.0 829.8M424.5 838.2L456.8 815.0M330.9 909.4L341.8 901.0M493.7 791.6L503.1 785.1M265.1 963.6L292.7 943.0M390.4 880.3L398.8 874.4M392.3 881.5L408.7 869.7M376.5 903.7L408.9 880.5M481.5 828.2L497.6 816.4M321.3 949.4L330.4 942.6M433.0 869.0L450.2 856.9M253.8 1000.8L275.0 985.4M256.8 1001.8L274.2 990.1M291.5 977.5L301.7 969.4M335.2 945.9L362.8 925.8M253.2 1007.5L265.9 998.7M456.0 861.7L475.2 848.0M286.8 989.6L303.3 978.1M481.6 850.1L491.9 842.6M291.9 988.9L320.7 968.1M420.0 903.2L437.1 891.0M370.6 942.3L386.7 930.1M469.6 870.8L501.1 848.2M271.1 1019.4L298.2 1000.3M469.5 876.9L483.3 866.8M273.7 1021.0L303.6 999.9M305.1 998.0L314.5 991.5M408.9 923.9L426.3 910.5M266.7 1029.6L299.3 1006.5M303.3 1003.7L321.1 990.4M323.7 988.0L344.4 973.2M376.1 951.0L392.4 938.7M260.0 1037.2L277.8 1024.9M327.2 992.5L345.6 979.1M419.1 925.5L434.5 915.4M309.0 1008.2L325.4 996.4M369.0 966.1L378.4 958.7M439.8 915.2L471.3 891.8M256.9 1048.9L287.5 1026.9M382.0 959.7L407.8 940.3M317.7 1008.8L336.2 995.5M309.0 1018.6L318.6 1011.6M488.2 889.9L498.9 881.8M265.1 1056.6L279.7 1045.2M284.1 1042.9L305.2 1027.6M283.4 1060.2L301.1 1048.0M422.5 960.2L442.4 945.8M308.7 1045.8L319.9 1037.3M324.5 1034.7L345.1 1019.6M365.8 1005.0L390.9 986.2M300.1 1055.4L317.1 1042.2M466.2 935.2L493.0 916.5M296.7 1061.7L306.2 1053.8M406.9 995.1L440.3 971.3M377.7 1020.4L400.1 1003.8M503.4 929.8L527.4 912.1M441.5 977.2L465.3 961.1M460.7 967.3L489.6 946.9M346.8 1052.0L370.3 1036.0M425.5 1000.0L439.6 989.6M442.3 986.9L475.2 963.5M402.3 1019.6L413.0 1011.6M254.3 1129.6L282.6 1108.7M347.2 1065.8L357.4 1058.4M473.3 978.7L488.6 967.1M411.9 1025.4L442.8 1003.4M364.4 1064.3L379.5 1052.8M440.7 1008.5L467.9 989.5M472.6 986.0L482.9 978.2M389.3 1049.0L417.7 1029.4M269.0 1139.2L290.8 1123.1M293.1 1121.9L314.2 1106.7M393.8 1049.1L407.8 1039.1M423.1 1028.6L436.0 1018.6M503.7 973.1L514.8 964.8M346.0 1090.3L354.5 1083.5M470.0 1000.9L478.2 994.8M439.3 1030.8L469.4 1008.3M282.1 1150.6L294.7 1142.0M364.8 1091.4L389.5 1073.0M426.3 1046.6L448.3 1031.0M460.5 1035.9L493.2 1012.7M494.8 1011.8L527.0 988.5M293.3 1169.9L304.1 1162.3M399.2 1097.0L424.5 1078.3M470.5 1045.2L498.6 1025.7M487.0 1037.0L516.4 1016.0M463.7 1057.2L482.0 1044.0M291.9 1184.6L312.6 1168.8M471.9 1055.1L485.0 1045.3M261.5 1213.7L269.8 1207.8M270.8 1209.1L285.6 1198.6M460.6 1079.2L490.4 1057.7M340.8 1168.2L349.2 1162.4M292.1 1207.5L320.0 1187.0M442.4 1098.1L471.0 1078.1M278.9 1220.3L304.8 1201.4M371.6 1152.8L392.6 1137.8M433.6 1111.6L449.8 1100.1M465.4 1091.2L476.8 1083.8M276.0 1231.5L303.6 1211.4M306.7 1209.4L330.7 1192.4M355.9 1174.3L367.8 1165.1M412.6 1133.4L424.3 1124.6M438.3 1114.7L462.7 1097.2M477.8 1085.9L499.7 1071.0M256.5 1252.3L288.3 1228.6M403.4 1152.5L419.6 1141.4M470.0 1104.6L492.9 1088.5" stroke-width="2.0"/><path d="M325.4 736.9L335.8 728.9M432.7 659.1L446.0 649.8M442.6 655.5L456.5 644.8M256.5 792.4L270.5 782.8M261.0 792.7L284.1 777.0M470.9 644.6L481.4 637.9M303.8 769.5L326.5 752.4M254.2 807.9L262.9 801.5M347.2 744.8L360.1 735.5M364.5 731.7L389.7 714.5M260.5 809.9L271.5 801.8M306.5 777.4L335.8 756.1M392.8 718.1L402.1 711.6M433.7 689.5L453.9 674.5M254.0 821.5L267.5 812.0M352.3 754.0L378.8 735.0M434.0 695.2L444.0 688.7M286.1 804.6L297.2 797.8M372.4 750.6L402.1 728.9M362.2 761.3L387.0 744.3M423.9 717.1L440.3 705.2M442.4 703.4L476.0 679.4M313.9 799.1L325.7 791.5M293.0 817.6L326.5 794.1M453.6 705.8L485.4 683.2M334.5 798.9L344.1 791.9M346.2 790.8L361.2 779.6M503.5 677.8L520.6 664.9M427.4 735.3L453.7 716.2M496.9 685.1L510.3 675.1M386.1 771.8L394.3 766.4M395.6 765.0L417.2 750.2M327.0 817.1L346.5 804.1M463.0 723.1L486.9 706.1M495.7 702.3L505.6 695.1M409.3 768.5L437.4 747.9M411.6 774.1L433.3 758.9M456.0 741.8L482.6 722.7M485.9 720.0L509.0 703.6M484.4 724.7L517.9 700.6M484.7 731.6L512.4 711.9M409.1 790.3L443.0 764.8M358.1 829.9L387.5 808.4M252.0 915.5L285.1 891.4M448.8 773.6L480.2 751.2M322.5 868.0L353.3 845.7M439.5 784.2L463.9 766.3M371.6 835.4L403.0 813.1M449.6 779.4L472.6 763.7M416.4 810.7L432.5 799.0M290.2 914.9L311.6 899.2M447.9 801.2L480.8 776.9M427.4 819.3L447.7 804.1M473.2 785.7L491.3 773.2M284.8 925.4L317.6 901.2M258.9 947.5L290.7 924.3M315.4 913.4L342.9 893.2M344.9 899.5L371.7 879.4M254.6 971.0L263.0 965.1M326.8 919.3L360.4 894.3M401.6 865.5L431.7 843.7M358.4 900.2L367.1 893.3M401.4 872.3L415.8 862.0M260.1 977.6L276.7 965.0M443.3 845.8L452.3 838.8M471.4 825.1L495.3 808.2M473.4 826.8L497.8 810.2M278.9 974.0L292.0 964.8M300.5 961.6L314.5 951.8M357.6 920.3L373.0 909.2M367.6 922.7L383.7 911.0M401.2 902.0L434.9 877.6M288.9 984.7L297.4 978.9M370.8 935.8L385.2 924.8M389.0 922.7L402.2 912.8M326.0 970.8L352.2 951.4M482.0 870.5L510.9 850.4M393.8 938.5L416.6 921.9M418.2 920.4L444.7 901.0M473.5 881.1L501.6 860.8M347.9 976.9L364.0 965.6M277.0 1031.4L290.4 1022.0M400.9 942.1L413.3 934.1M374.1 978.2L389.4 966.5M467.0 914.1L500.0 890.6M501.4 890.3L515.0 880.4M256.5 1069.0L286.6 1047.5M474.4 912.2L485.1 904.6M337.5 1014.1L355.5 1001.1M357.7 999.7L378.1 984.5M403.1 967.1L431.6 946.6M428.2 952.4L454.7 933.1M253.1 1081.9L265.5 1073.0M348.1 1014.1L377.3 992.6M348.3 1017.8L361.7 1007.2M331.7 1031.9L354.4 1016.5M356.0 1014.2L371.1 1004.4M330.5 1036.8L342.1 1028.3M260.6 1104.7L270.1 1097.4M460.8 960.0L471.7 952.4M273.2 1099.0L286.5 1088.9M267.5 1113.3L284.2 1101.4M297.0 1105.0L322.7 1087.0M379.7 1045.9L402.6 1029.7M284.2 1117.9L313.1 1096.7M355.5 1067.1L379.0 1050.2M254.5 1142.8L266.8 1134.7M396.0 1041.6L415.1 1026.8M326.5 1094.8L359.7 1070.2M447.3 1007.3L474.4 988.4M257.6 1146.9L267.6 1139.7M359.9 1073.2L373.6 1063.6M314.0 1109.5L341.8 1089.5M285.5 1133.3L313.4 1113.8M398.0 1052.3L428.0 1031.7M259.1 1157.0L287.1 1136.4M307.7 1128.5L335.4 1108.3M252.7 1172.2L279.9 1151.8M325.8 1122.5L335.6 1115.4M394.1 1073.1L426.4 1050.4M294.3 1155.9L328.0 1132.3M371.1 1100.3L392.4 1085.1M445.3 1049.7L455.1 1043.2M305.1 1154.3L329.0 1137.0M479.7 1029.4L505.3 1010.0M413.0 1080.5L444.9 1056.7M307.2 1159.6L340.7 1135.8M374.7 1111.6L408.3 1087.8M252.2 1202.9L281.7 1180.9M345.9 1134.9L365.9 1120.3M431.7 1077.4L455.3 1060.5M281.1 1189.0L293.9 1180.1M358.2 1143.8L381.0 1127.4M449.9 1081.1L481.9 1058.2M289.8 1198.6L315.1 1180.3M319.2 1177.3L353.1 1153.1M279.3 1209.2L309.9 1187.7M290.4 1204.9L307.4 1191.9M482.4 1066.8L502.9 1052.3M322.6 1185.3L345.3 1168.4M252.2 1239.1L275.3 1222.2M439.1 1104.2L470.6 1081.7M304.0 1205.2L338.0 1180.0M382.9 1147.4L397.4 1137.3M484.0 1088.6L499.6 1076.4M314.8 1213.6L334.1 1199.6M485.5 1091.0L518.4 1067.3M259.2 1257.1L284.5 1238.5M435.8 1130.0L449.4 1120.4" stroke-width="1.2"/><path d="M255.0 790.3L288.5 766.2M434.9 667.6L444.5 660.7M290.5 779.0L301.4 771.4M268.8 810.7L279.8 803.2M281.1 802.2L300.8 788.3M423.7 699.0L447.2 682.1M459.6 677.0L471.7 668.3M259.9 823.7L281.9 807.8M425.1 704.9L459.1 680.6M286.8 808.9L302.5 796.7M306.3 794.4L322.1 783.2M259.9 831.0L293.4 807.0M296.2 804.9L313.1 793.3M503.5 659.7L511.7 654.5M403.9 741.5L414.1 734.0M258.0 849.8L268.3 842.7M288.2 828.7L312.7 810.9M411.4 739.9L443.8 716.7M364.6 780.7L394.4 758.7M475.2 700.9L494.0 686.8M480.1 704.1L503.7 686.8M276.6 853.8L298.3 838.0M418.6 752.1L445.1 733.0M466.5 716.6L490.9 700.1M362.8 794.8L386.8 777.5M261.1 874.7L283.7 858.8M356.4 809.9L378.8 794.7M380.3 792.9L410.0 772.0M340.6 828.3L362.7 812.0M404.7 789.5L429.9 771.7M272.4 891.5L302.1 870.3M315.3 867.3L341.6 848.7M487.9 743.0L497.9 735.3M369.0 831.7L382.4 822.4M484.8 751.6L494.9 743.8M402.3 817.1L422.7 802.6M399.3 822.4L413.1 812.6M365.3 850.7L380.0 839.2M328.2 883.8L360.8 859.8M488.1 768.5L515.9 748.3M346.2 874.4L356.2 867.6M308.7 905.1L335.2 886.0M257.2 945.5L281.9 927.3M470.7 791.7L488.5 777.8M490.0 777.3L523.0 753.4M293.0 922.7L305.0 913.7M320.2 913.0L342.2 897.6M495.8 786.9L507.9 778.3M375.9 876.7L405.3 855.1M325.9 916.6L358.5 893.0M455.9 823.1L484.3 802.5M468.6 816.7L485.4 805.1M321.9 926.1L338.9 913.5M342.9 914.3L360.5 902.2M363.0 900.6L385.7 883.6M312.2 939.4L327.1 928.3M331.8 925.2L359.8 905.5M457.2 835.8L468.5 826.6M415.2 869.6L423.6 863.0M492.8 816.7L504.6 809.0M294.8 962.1L317.7 945.9M431.1 867.2L446.7 856.1M279.5 982.6L297.5 969.1M461.8 853.9L493.4 831.8M479.7 845.2L504.8 826.6M254.0 1010.4L287.6 985.8M326.0 958.2L350.5 941.1M260.6 1008.6L284.8 990.9M414.6 898.3L425.5 890.1M458.9 866.4L479.6 851.2M345.2 953.4L368.0 937.1M481.1 856.0L502.5 840.0M256.4 1021.2L279.1 1005.1M285.3 1002.9L317.0 980.6M441.6 890.7L465.5 874.0M256.6 1026.8L287.5 1005.3M326.8 998.6L347.1 983.8M500.1 874.6L525.6 856.0M418.9 939.1L437.3 926.5M289.1 1035.6L320.1 1013.6M359.3 985.7L377.7 971.8M408.0 949.9L422.5 939.3M392.5 964.1L418.8 945.1M307.3 1029.3L330.6 1012.4M411.4 954.7L428.5 942.4M446.6 933.0L471.2 914.9M488.4 902.4L516.0 883.2M303.0 1046.5L323.2 1032.4M443.9 944.6L467.3 927.9M269.7 1080.9L281.4 1072.5M365.8 1011.2L385.8 997.2M441.6 956.5L475.6 932.4M479.3 930.1L501.8 913.0M258.8 1091.9L275.0 1080.3M335.0 1036.6L344.9 1029.9M257.0 1095.6L286.0 1075.1M440.2 963.6L465.0 946.8M277.9 1084.3L295.0 1072.9M445.0 968.3L464.6 954.0M404.8 1000.7L433.1 980.6M335.2 1054.2L349.6 1044.3M414.3 997.2L426.1 989.1M500.1 936.0L520.2 920.9M392.2 1017.6L407.2 1005.7M492.4 944.9L505.9 934.7M292.6 1092.2L325.2 1068.5M405.6 1010.2L426.2 995.3M428.7 994.1L437.5 987.6M360.9 1046.5L382.1 1030.8M350.1 1057.5L377.2 1038.2M380.4 1035.1L398.6 1022.3M440.0 1002.7L469.3 981.0M317.4 1094.0L340.3 1077.3M383.7 1046.1L407.8 1029.3M485.1 976.8L516.8 954.7M307.9 1108.0L322.9 1096.6M361.1 1069.9L384.6 1052.7M409.7 1037.3L418.5 1031.8M259.4 1148.8L289.6 1127.4M451.7 1010.2L467.9 998.9M477.5 999.5L506.8 978.1M415.2 1047.3L436.9 1032.6M428.7 1049.1L461.1 1025.3M413.5 1063.8L429.5 1052.0M261.4 1177.1L291.1 1155.2M374.4 1095.7L386.2 1086.3M448.4 1041.5L457.7 1035.5M483.0 1016.5L495.5 1007.8M498.0 1005.8L531.6 981.9M394.7 1084.0L421.6 1064.4M279.1 1170.0L303.8 1151.6M258.7 1187.9L290.5 1164.8M449.6 1053.9L474.9 1036.1M501.9 1023.4L521.0 1009.4M451.8 1065.5L460.2 1060.2M278.2 1194.2L290.4 1184.7M487.1 1043.3L504.6 1031.3M475.7 1059.0L494.4 1045.9M377.2 1133.2L390.2 1123.1M421.4 1104.4L448.8 1084.0M432.0 1099.3L459.0 1079.9M420.6 1115.0L439.3 1100.6M395.1 1136.2L403.8 1130.0M475.4 1078.7L493.2 1065.5M280.7 1224.3L292.6 1215.8M327.2 1191.6L346.7 1177.3M280.9 1238.2L310.1 1216.7M426.8 1132.8L442.3 1122.2M443.9 1120.3L459.7 1108.9M474.2 1098.9L482.5 1092.7M364.2 1181.7L377.4 1172.1M497.0 1085.0L510.4 1076.1" stroke-width="1.1"/></g>
<path d="M266.0 981.0L502.0 783.5" stroke-width="3.4" stroke-linejoin="round"/>
<path d="M502.0 783.5L502.0 874.5" stroke-width="3.2" />
<path d="M502.0 874.5L402.0 959.5L264.0 1077.0" stroke-width="3.8" stroke-linejoin="round"/>
<path d="M264.0 1077.0L264.0 981.0" stroke-width="3.0" />
<line x1="173.0" y1="678.0" x2="502.0" y2="783.0" stroke-width="1.8" />
<line x1="51.0" y1="881.0" x2="265.0" y2="979.5" stroke-width="2.0" />
<line x1="52.0" y1="969.5" x2="264.0" y2="1076.5" stroke-width="3.2" />
<line x1="434.7" y1="763.9" x2="214.6" y2="935.7" stroke-width="1.8" />
<line x1="410.0" y1="784.5" x2="472.0" y2="808.6" stroke-width="2.4" />
<line x1="352.0" y1="829.5" x2="416.9" y2="854.7" stroke-width="2.4" />
<line x1="311.4" y1="861.4" x2="378.3" y2="887.0" stroke-width="2.4" />
<line x1="244.8" y1="915.5" x2="307.0" y2="946.7" stroke-width="2.4" />
<line x1="470.6" y1="814.0" x2="481.7" y2="855.3" stroke-width="1.4" stroke="#fff"/>
<line x1="473.4" y1="811.0" x2="484.5" y2="858.3" stroke-width="3.0" />
<line x1="414.1" y1="858.5" x2="410.0" y2="920.0" stroke-width="1.4" stroke="#fff"/>
<line x1="416.9" y1="855.5" x2="412.8" y2="923.0" stroke-width="3.0" />
<line x1="375.5" y1="891.0" x2="385.2" y2="937.5" stroke-width="1.4" stroke="#fff"/>
<line x1="378.3" y1="888.0" x2="388.0" y2="940.5" stroke-width="3.0" />
<line x1="304.2" y1="950.0" x2="295.8" y2="1022.0" stroke-width="1.4" stroke="#fff"/>
<line x1="307.0" y1="947.0" x2="298.6" y2="1025.0" stroke-width="3.0" />
<path d="M298.6 1025.0L388.0 940.5L412.0 923.0L484.5 858.3L501.0 847.0" stroke-width="2.4" stroke-linejoin="round"/>
<g transform="translate(270.5 909.5) rotate(-8)"><ellipse rx="11.6" ry="8.2" fill="#fff" stroke="#000" stroke-width="2.2"/><path d="M3.6 -7.9A11.6 8.2 0 1 0 3.6 7.9Q-0.6 0 3.6 -7.9Z" fill="#000" stroke="none"/></g>
<g transform="translate(291.5 893.5) rotate(-8)"><ellipse rx="11.6" ry="8.2" fill="#fff" stroke="#000" stroke-width="2.2"/><path d="M3.6 -7.9A11.6 8.2 0 1 0 3.6 7.9Q-0.6 0 3.6 -7.9Z" fill="#000" stroke="none"/></g>
<g transform="translate(312.5 876) rotate(-8)"><ellipse rx="11.6" ry="8.2" fill="#fff" stroke="#000" stroke-width="2.2"/><path d="M3.6 -7.9A11.6 8.2 0 1 0 3.6 7.9Q-0.6 0 3.6 -7.9Z" fill="#000" stroke="none"/></g>
<g transform="translate(379.7 825.2) rotate(-8)"><ellipse rx="11.6" ry="8.2" fill="#fff" stroke="#000" stroke-width="2.2"/><path d="M3.6 -7.9A11.6 8.2 0 1 0 3.6 7.9Q-0.6 0 3.6 -7.9Z" fill="#000" stroke="none"/></g>
<g transform="translate(396.2 811.4) rotate(-8)"><ellipse rx="11.6" ry="8.2" fill="#fff" stroke="#000" stroke-width="2.2"/><path d="M3.6 -7.9A11.6 8.2 0 1 0 3.6 7.9Q-0.6 0 3.6 -7.9Z" fill="#000" stroke="none"/></g>
<g transform="translate(410 797) rotate(-8)"><ellipse rx="11.6" ry="8.2" fill="#fff" stroke="#000" stroke-width="2.2"/><path d="M3.6 -7.9A11.6 8.2 0 1 0 3.6 7.9Q-0.6 0 3.6 -7.9Z" fill="#000" stroke="none"/></g>
<circle cx="232" cy="1041" r="1.3" fill="#000" stroke="none"/></g></svg>
<figcaption><span class="t" style="left:78.79px;top:1099.80px;font-size:36.5px;letter-spacing:2.156px;-webkit-text-stroke:0.7px #000;">Fig. <span class="os">2</span><span class="od">7</span><span class="od">7</span>.—Roughing-out</span>
<span class="t" style="left:195.69px;top:1139.00px;font-size:36.5px;letter-spacing:2.021px;-webkit-text-stroke:0.7px #000;">by Boring.</span></figcaption></figure>
<figure><svg width="1160" height="1833" viewBox="0 0 1160 1833"><g id="fig278" stroke="#000" stroke-linecap="round" fill="none"><clipPath id="c278a"><polygon points="739,732.5 855.4,662.4 889.5,684.5 872,694 861.6,696.6 771.6,749.3"/></clipPath><g clip-path="url(#c278a)"><path d="M736.9 738.7Q802.2 701.7 865.4 661.3" stroke-width="1.2" stroke-dasharray="58 5 34 6"/><path d="M739.0 742.2Q804.3 705.2 867.5 664.8" stroke-width="1.7" stroke-dasharray="67 3 25 6"/><path d="M741.0 745.5Q806.3 708.5 869.6 668.1" stroke-width="1.2" stroke-dasharray="60 3 23 5"/><path d="M743.2 749.1Q808.5 712.1 871.7 671.7" stroke-width="1.8" stroke-dasharray="49 3 22 6"/><path d="M745.2 752.5Q810.5 715.5 873.7 675.1" stroke-width="1.2" stroke-dasharray="70 2 39 5"/><path d="M747.3 756.0Q812.6 719.0 875.9 678.6" stroke-width="1.6" stroke-dasharray="58 3 39 2"/><path d="M749.3 759.2Q814.6 722.3 877.8 681.8" stroke-width="1.2" stroke-dasharray="63 2 21 2"/></g>
<path d="M739.0 732.5L767.0 714.0L795.0 697.0L821.0 682.0L855.4 662.4" stroke-width="2.6" stroke-linejoin="round"/>
<path d="M854.4 663.9L888.5 685.5" stroke-width="5.5" />
<path d="M771.6 749.3L861.6 696.6" stroke-width="3.0" />
<polygon points="861.6,695.1 841.6,705.6 859.6,699.6" fill="#000" stroke="none"/>
<path d="M739.0 732.5L748.0 738.5L771.6 749.3" stroke-width="2.2" stroke-linejoin="round"/>
<polygon points="771.6,750.3 757.6,740.8 766.6,742.3 777.6,744.3" fill="#000" stroke="none"/>
<line x1="864.0" y1="674.0" x2="860.0" y2="685.0" stroke-width="1.7" />
<line x1="869.0" y1="677.0" x2="865.0" y2="688.0" stroke-width="1.7" />
<line x1="874.0" y1="680.0" x2="870.0" y2="691.0" stroke-width="1.7" />
<line x1="879.0" y1="683.0" x2="875.0" y2="694.0" stroke-width="1.7" />
<line x1="884.0" y1="686.0" x2="880.0" y2="697.0" stroke-width="1.7" />
<path d="M857.0 689.0L864.5 694.0L871.0 692.5" stroke-width="1.6" />
<path d="M739.0 732.5L739.3 797.0L742.8 812.0L744.0 860.0L745.5 925.0" stroke-width="1.9" stroke-linejoin="round"/>
<path d="M745.5 925.0L778.5 942.0" stroke-width="2.0" />
<path d="M771.6 749.3L776.5 810.0L778.9 942.0" stroke-width="2.0" />
<path d="M864.5 694.0L867.5 760.0L871.5 850.0" stroke-width="1.8" />
<path d="M871.0 693.0L873.0 760.0L876.5 856.0" stroke-width="1.8" />
<path d="M889.8 686.0L891.5 780.0L893.3 871.0" stroke-width="2.2" />
<path d="M886.5 690.0L887.5 740.0L889.5 790.0" stroke-width="1.4" />
<path d="M751.0 928.0L750.0 962.0" stroke-width="2.2" />
<path d="M750.0 962.0L950.3 1075.0" stroke-width="2.4" />
<path d="M778.5 942.0L951.0 1037.8" stroke-width="2.2" />
<path d="M893.4 870.5L1065.0 969.5" stroke-width="2.2" />
<clipPath id="c278b"><polygon points="951,1037.8 1010,1003 1006,1042 950.3,1075"/></clipPath><g clip-path="url(#c278b)" fill="none" stroke-linecap="butt"><path d="M944.5 1000.7L965.6 987.8M970.5 984.2L979.5 979.2M984.2 975.7L994.7 969.0M998.3 966.7L1007.0 961.3M1011.3 959.3L1022.5 951.5M947.0 1002.7L959.1 996.2M961.8 994.0L986.6 978.7M991.5 976.0L1011.7 963.4M939.8 1011.8L949.4 1006.2M953.4 1003.4L967.6 995.2M970.4 993.3L987.1 982.2M988.8 982.0L1010.1 967.9M938.4 1017.6L947.7 1012.8M952.0 1010.1L976.3 994.4M979.7 991.9L1001.4 979.2M1006.0 976.6L1015.2 969.9M941.7 1021.6L965.9 1006.4M968.2 1004.7L978.0 999.3M980.3 998.2L989.6 991.9M992.1 990.7L1010.7 978.7M938.6 1029.5L955.5 1018.2M960.4 1015.9L979.7 1003.2M981.9 1002.1L1004.7 988.1M1009.3 985.2L1034.4 969.7M942.3 1031.4L953.3 1025.3M957.2 1022.1L974.1 1011.3M978.5 1008.9L1001.7 995.0M1005.8 992.5L1025.6 979.7M946.0 1034.0L966.2 1022.2M969.9 1019.4L978.6 1013.7M981.9 1012.1L1004.3 998.4M1008.2 996.1L1029.2 982.5M948.1 1038.2L972.8 1022.9M977.4 1020.0L1001.8 1005.1M1006.0 1002.6L1017.4 995.3M946.0 1044.9L965.4 1032.1M968.6 1030.3L988.1 1018.8M990.0 1017.1L1006.5 1006.6M1009.3 1005.1L1020.8 997.7M944.2 1051.4L956.7 1042.6M959.4 1041.1L974.9 1032.4M976.7 1030.3L995.6 1019.1M999.3 1017.2L1024.1 1001.3M939.7 1058.6L958.3 1047.5M962.1 1045.1L976.6 1035.1M980.2 1033.0L999.2 1021.8M1002.1 1019.5L1018.0 1009.8M947.4 1059.2L966.1 1048.5M969.2 1046.6L983.1 1037.3M986.4 1035.4L997.0 1028.7M1001.3 1025.4L1023.9 1012.1M940.8 1068.6L953.8 1061.5M957.6 1058.8L974.1 1048.4M976.2 1046.8L997.7 1033.8M1000.4 1032.0L1017.9 1021.0M940.8 1073.8L957.1 1063.7M958.8 1062.0L980.5 1048.7M984.4 1046.8L1001.1 1035.8M1005.7 1032.8L1017.5 1026.1M942.6 1077.8L956.0 1069.7M959.3 1067.1L977.2 1055.8M980.8 1053.2L1003.1 1039.6M1007.5 1036.6L1027.3 1025.2M938.8 1084.8L961.6 1071.2M965.7 1068.2L976.5 1062.2M980.3 1059.0L995.8 1049.9M997.9 1048.0L1012.8 1038.7M939.6 1090.0L955.5 1080.5M960.4 1076.8L975.2 1068.3M979.1 1066.2L996.2 1055.2M998.8 1053.2L1016.6 1042.7M942.0 1092.9L963.0 1080.5M965.0 1078.5L984.9 1066.3M987.4 1065.1L1010.8 1050.5M938.8 1101.2L949.9 1094.0M952.0 1092.7L977.0 1077.3M980.9 1074.2L995.4 1065.4M998.3 1063.3L1013.3 1054.8M946.8 1100.7L964.1 1089.9M967.2 1087.4L977.3 1081.3M982.0 1079.0L998.7 1067.8M1003.4 1065.4L1022.5 1053.6M942.0 1108.5L957.1 1098.3M959.7 1096.8L971.0 1089.7M972.8 1088.8L997.0 1074.5M1001.0 1072.0L1017.5 1060.8M945.6 1110.7L956.9 1103.5M958.8 1103.4L974.1 1093.2M977.4 1091.6L990.8 1083.3M993.3 1082.0L1013.2 1069.3M938.9 1119.4L960.7 1105.4M965.7 1102.7L983.0 1091.6M987.8 1089.7L1004.6 1078.2M1006.5 1077.0L1021.8 1067.8M938.7 1123.6L963.7 1108.5M967.2 1106.0L977.1 1099.6M982.0 1097.5L1000.6 1085.2M1004.2 1083.4L1020.9 1072.8" stroke-width="1.3"/></g>
<clipPath id="c278c"><polygon points="1010,1003 1065,969.5 1069.7,1005.2 1006,1042"/></clipPath><g clip-path="url(#c278c)" fill="none" stroke-linecap="butt"><path d="M1001.9 968.4L1014.4 944.4M1015.8 942.4L1025.3 923.8M1026.2 922.6L1038.5 898.9M1039.9 896.3L1047.1 882.9M1048.7 880.0L1060.0 857.8M1061.6 854.9L1074.0 831.1M1003.5 975.8L1014.0 956.4M1015.8 952.9L1029.0 927.9M1030.6 924.2L1044.4 898.4M1045.3 896.4L1055.8 877.3M1056.4 875.4L1067.6 854.1M1068.2 853.7L1075.6 839.5M997.3 997.9L1010.5 972.5M1011.5 971.4L1018.2 957.7M1019.7 955.9L1028.6 938.1M1030.3 935.6L1041.5 913.8M1043.1 910.8L1053.0 892.2M1053.6 890.6L1065.4 868.4M1066.2 866.6L1071.9 856.2M1003.3 997.7L1011.0 983.6M1011.8 981.5L1021.4 962.9M1022.3 961.5L1034.6 938.4M1036.4 935.0L1045.1 918.1M1046.3 916.6L1058.5 892.6M1059.6 890.2L1065.7 879.6M1067.2 877.0L1075.8 860.5M1000.1 1017.2L1009.3 999.9M1010.4 997.2L1016.8 984.7M1018.1 982.8L1024.9 969.3M1026.3 967.6L1035.8 949.3M1036.4 947.4L1049.0 924.2M1050.7 920.7L1063.8 896.1M1064.4 895.1L1077.9 868.9M1001.1 1026.0L1007.2 1014.6M1009.0 1011.1L1015.3 998.5M1016.4 996.1L1029.7 970.9M1031.1 968.2L1041.1 949.3M1041.7 948.9L1055.6 922.7M1056.5 920.7L1062.8 908.1M1063.9 905.9L1073.6 887.4M995.5 1047.5L1003.5 1032.9M1004.2 1031.4L1011.7 1017.7M1012.4 1015.6L1020.6 1000.3M1021.9 997.6L1029.0 984.1M1030.1 982.3L1044.0 956.0M1045.4 953.0L1057.7 929.9M1058.4 928.3L1069.2 907.3M1070.8 905.2L1077.3 892.0M1001.9 1047.6L1009.3 1033.8M1010.5 1031.6L1022.1 1008.6M1022.8 1008.4L1029.3 994.9M1030.8 992.8L1042.1 971.3M1043.1 969.5L1050.4 955.6M1051.2 953.5L1061.7 934.1M1063.6 930.4L1075.1 908.6M997.7 1065.9L1004.2 1052.3M1006.0 1049.9L1015.3 1031.4M1015.8 1030.4L1021.9 1019.7M1023.2 1016.4L1031.1 1001.8M1032.9 998.5L1041.7 981.7M1042.9 979.1L1050.7 965.1M1051.8 962.6L1064.2 939.6M1065.4 936.9L1071.9 924.2M1002.1 1069.5L1011.6 1051.5M1013.4 1048.1L1026.3 1023.0M1026.9 1022.4L1035.6 1005.3M1036.5 1003.9L1042.8 992.1M1043.4 990.2L1052.2 974.5M1053.4 971.7L1067.0 946.2M1067.9 944.5L1081.9 917.7M994.7 1095.3L1001.4 1083.2M1002.0 1081.3L1011.9 1063.3M1012.5 1062.2L1026.3 1035.3M1026.9 1034.9L1038.6 1011.8M1040.0 1010.0L1052.8 985.3M1054.1 983.2L1063.5 965.1M1065.3 962.0L1076.2 940.7M1003.9 1087.5L1013.3 1069.9M1014.3 1067.8L1025.2 1048.1M1026.8 1044.8L1033.6 1031.6M1034.1 1031.1L1044.2 1011.1M1044.6 1011.3L1058.6 984.5M1059.1 983.4L1065.7 971.0M1067.4 967.2L1076.7 949.9M998.5 1111.4L1012.3 1084.3M1013.7 1081.7L1024.5 1062.2M1025.8 1058.9L1032.8 1045.5M1033.7 1043.9L1040.5 1031.6M1042.2 1028.4L1049.7 1014.1M1051.3 1010.4L1059.9 994.1M1060.7 993.1L1069.5 976.1M1070.1 975.3L1079.3 957.8M1003.7 1113.4L1013.4 1095.3M1014.2 1093.1L1027.9 1067.2M1029.8 1064.2L1039.9 1044.1M1041.3 1042.0L1049.6 1026.2M1050.2 1025.0L1059.4 1007.0M1059.9 1006.3L1067.7 991.5M1069.4 988.8L1081.0 966.2M996.4 1139.5L1002.1 1129.2M1002.8 1128.0L1015.0 1105.2M1015.6 1103.1L1027.8 1079.9M1029.0 1077.9L1035.1 1066.0M1035.7 1064.9L1041.5 1054.1M1043.0 1051.5L1053.7 1031.0M1054.4 1029.3L1061.5 1016.5M1062.3 1014.9L1070.8 998.8M1003.1 1137.6L1014.9 1115.2M1015.5 1114.6L1026.5 1093.1M1027.3 1091.5L1040.6 1066.4M1041.5 1064.6L1054.7 1039.8M1056.0 1036.7L1065.5 1019.5M1066.8 1016.6L1078.1 995.0M1002.9 1148.0L1013.5 1127.9M1015.2 1124.7L1028.9 1098.3M1030.7 1094.6L1040.3 1077.0M1041.2 1075.2L1052.3 1054.1M1053.6 1052.0L1067.3 1025.2M1068.3 1023.8L1081.8 997.9M994.2 1174.9L1006.5 1151.6M1007.8 1149.5L1018.1 1130.5M1018.9 1128.0L1032.8 1101.5M1034.7 1098.4L1043.8 1081.1M1045.3 1078.1L1056.2 1057.2M1057.5 1054.9L1067.3 1037.2M1069.0 1033.5L1080.3 1011.4M994.8 1184.5L1006.1 1162.6M1006.7 1161.8L1017.0 1141.9M1018.1 1140.4L1030.1 1116.6M1031.4 1115.0L1039.4 1099.0M1040.6 1097.0L1048.0 1083.2M1049.4 1080.6L1060.0 1060.4M1061.7 1057.8L1074.8 1032.6" stroke-width="2.0"/></g>
<path d="M951.0 1037.8L1065.0 969.5" stroke-width="3.0" />
<path d="M950.3 1075.0L1069.7 1005.2" stroke-width="3.2" />
<path d="M951.0 1037.8L950.3 1075.0" stroke-width="2.4" />
<polygon points="1062,969.5 1069,970.5 1071.2,1005.2 1064.7,1002.2 1062,994.5" fill="#000" stroke="none"/>
<text transform="translate(976,1047.5) rotate(-28) skewX(-22)" font-family="Liberation Sans, sans-serif" font-size="22" textLength="45" lengthAdjust="spacingAndGlyphs" fill="#000" stroke="#fff" stroke-width="3" paint-order="stroke" stroke-linejoin="round">SIDE</text>
<path d="M778.9 942.0L793.6 931.0L792.9 894.6" stroke-width="2.2" stroke-linejoin="round"/>
<path d="M792.9 894.6L806.0 886.0" stroke-width="3.6" />
<polygon points="805,884.5 827.8,871.5 827.8,909.3 810.7,892.2" fill="#000" stroke="none"/>
<path d="M812.0 884.0L824.0 878.0" stroke-width="1.6" stroke="#fff"/>
<path d="M815.0 889.0L825.0 884.0" stroke-width="1.3" stroke="#fff"/>
<path d="M818.0 895.0L826.0 891.0" stroke-width="1.2" stroke="#fff"/>
<path d="M827.8 872.0L827.8 909.3L847.2 898.5L845.8 861.2" stroke-width="2.2" stroke-linejoin="round"/>
<path d="M845.8 861.2L871.2 849.0" stroke-width="3.4" />
<polygon points="862,852 877,848 879,879.8 868,868 860,858" fill="#000" stroke="none"/>
<path d="M866.0 856.0L874.0 853.0" stroke-width="1.3" stroke="#fff"/>
<path d="M879.0 879.8L893.3 871.5" stroke-width="2.2" />
<polygon points="846,870.2 878.6,857.2 922,840.6 992,813.2 1000.4,811.6 1003,820.6 994,823.4 922,846.8 878.6,862.8 847,872.5" fill="#000" stroke="none"/>
<path d="M930.0 841.3L952.0 833.2" stroke-width="1.2" stroke="#fff" stroke-linecap="butt"/>
<path d="M957.0 831.6L990.0 819.2" stroke-width="1.5" stroke="#fff" stroke-linecap="butt"/>
<path d="M903.0 851.5L914.0 847.5" stroke-width="1.0" stroke="#fff" stroke-linecap="butt"/>
<path d="M831.0 876.5L836.0 875.0" stroke-width="1.8" />
<path d="M839.0 874.0L843.0 873.0" stroke-width="1.8" />
<ellipse cx="771" cy="880" rx="2.4" ry="1.6" fill="#000" stroke="none" transform="rotate(-25 771 880)"/>
<ellipse cx="762.5" cy="887.5" rx="2.4" ry="1.6" fill="#000" stroke="none" transform="rotate(-25 762.5 887.5)"/>
<ellipse cx="763.5" cy="919.5" rx="2.4" ry="1.6" fill="#000" stroke="none" transform="rotate(-25 763.5 919.5)"/>
<ellipse cx="806" cy="860" rx="2.4" ry="1.6" fill="#000" stroke="none" transform="rotate(-25 806 860)"/>
<ellipse cx="818.5" cy="852.5" rx="2.4" ry="1.6" fill="#000" stroke="none" transform="rotate(-25 818.5 852.5)"/>
<ellipse cx="826" cy="847" rx="2.4" ry="1.6" fill="#000" stroke="none" transform="rotate(-25 826 847)"/>
<ellipse cx="844" cy="836" rx="2.4" ry="1.6" fill="#000" stroke="none" transform="rotate(-25 844 836)"/>
<ellipse cx="857" cy="830" rx="2.4" ry="1.6" fill="#000" stroke="none" transform="rotate(-25 857 830)"/>
<path d="M816.0 852.0L816.0 870.0" stroke-width="1.4" />
<path d="M857.0 830.0L857.0 838.0" stroke-width="1.6" />
<path d="M862.0 832.0L872.0 841.0" stroke-width="1.4" />
<line x1="775.0" y1="874.6" x2="783.0" y2="872.6" stroke-width="1.3" />
<line x1="775.0" y1="891.7" x2="783.0" y2="889.7" stroke-width="1.3" />
<line x1="775.0" y1="908.8" x2="783.0" y2="906.8" stroke-width="1.3" />
<line x1="775.0" y1="925.8" x2="783.0" y2="923.8" stroke-width="1.3" />
<text transform="translate(790,777) rotate(-30.5) skewX(-20)" font-family="Liberation Sans, sans-serif" font-size="19.5" textLength="70" lengthAdjust="spacing" fill="#000" stroke="none">FRONT</text></g></svg>
<figcaption><span class="t" style="left:743.89px;top:1102.30px;font-size:36.5px;letter-spacing:2.186px;-webkit-text-stroke:1.1px #000;">Fig. <span class="os">2</span><span class="od">7</span><span class="oa">8</span>.—Marking</span>
<span class="t" style="left:731.49px;top:1140.20px;font-size:36.5px;letter-spacing:2.328px;-webkit-text-stroke:1.1px #000;">Pins on Drawer Side.</span></figcaption></figure>
<p><span class="l" style="top:1542.50px;left:84.30px;word-spacing:8.546px;transform:rotate(0.0711deg);transform-origin:0 38.0px">As dovetailing is chiefly used for drawer making,</span>
<span class="l" style="top:1588.50px;left:40.40px;word-spacing:10.217px;transform:rotate(0.0711deg);transform-origin:0 38.0px">it will be of interest to give several illustrations of</span>
<span class="l" style="top:1634.10px;left:40.40px;word-spacing:2.365px;transform:rotate(0.0711deg);transform-origin:0 38.0px">variations of the joint and its uses.</span></p>
<p><span class="l" style="top:1679.70px;left:85.20px;word-spacing:-1.911px;transform:rotate(0.0711deg);transform-origin:0 38.0px">Fig. <span class="os i">2</span><span class="od i">7</span><span class="oa">8</span> indicates the method of marking the position</span></p>
<footer><span class="t" style="left:536.95px;top:1738.40px;font-size:46px;letter-spacing:-0.032px;-webkit-text-stroke:1.0px #000;"><span class="o1">1</span><span class="od">3</span><span class="od">9</span></span> <span><span class="t" style="left:971.48px;top:1756.00px;font-size:21px;letter-spacing:0.000px;font-weight:bold;-webkit-text-stroke:0.5px #000;">K</span> <span class="t" style="left:1001.48px;top:1756.60px;font-size:21px;letter-spacing:0.000px;font-weight:bold;-webkit-text-stroke:0.5px #000;">2</span></span></footer>
</body></html>
